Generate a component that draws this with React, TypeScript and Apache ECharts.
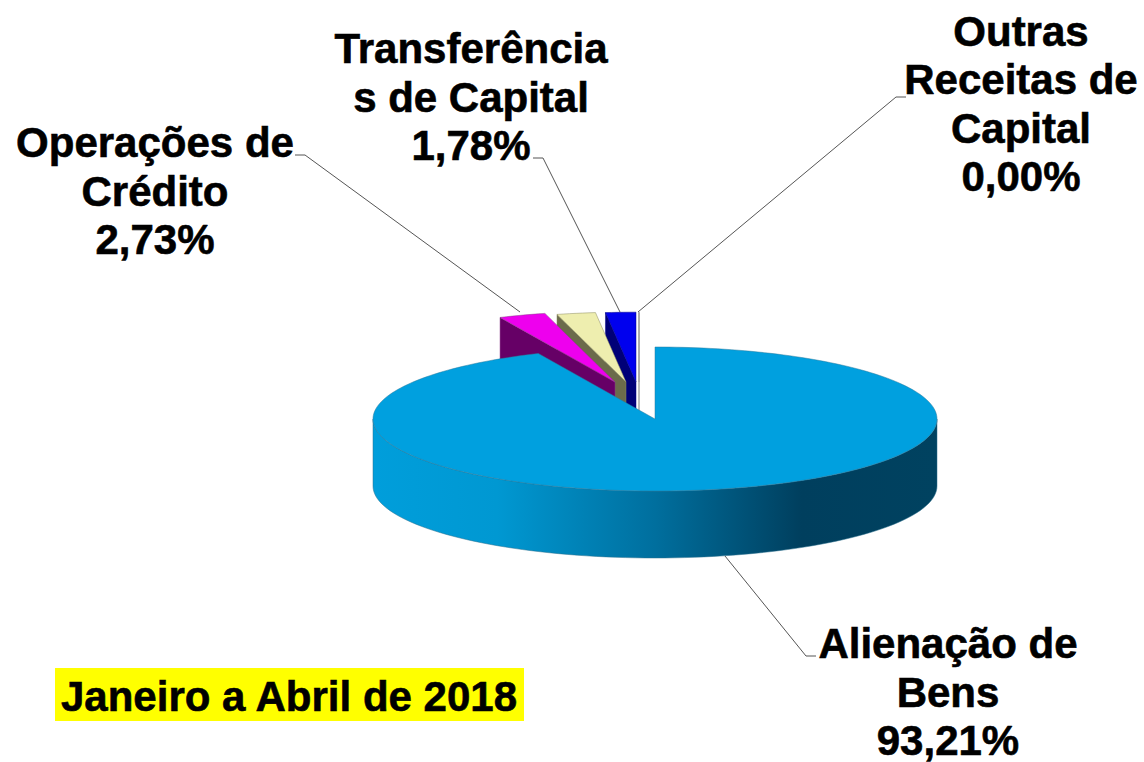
import React, { useEffect, useRef } from "react";
import * as echarts from "echarts";

// Clockwise from 12 o'clock
const categories = ["Alienação de\nBens", "Operações de\nCrédito", "", "Transferência\ns de Capital", "Outras\nReceitas de\nCapital"];
const values = [93.21, 2.73, 2.28, 1.78, 0.0];
const periodLabel = "Janeiro a Abril de 2018";

const topColors = ["#00A0DF", "#EE00EE", "#EEEEAF", "#0000EE", "#FFFFFF"];
const sideColors = ["#00A0DF", "#660066", "#6B6B4B", "#000077", "#FFFFFF"];
const edgeColors = ["#2a7a9c", "#8a3a8a", "#8a8a60", "#000088", "#a8a8a8"];
// Layout (per category)
const explode = [[0, 0], [-40, -37], [-29, -37], [-19, -37], [-16, -37]];
const radiusScale = [1, 0.985, 0.97, 0.97, 0.97];
const labelPos = [[948, 692], [155, 191], null, [471, 97], [1021, 104]];
const leaders = [
  [[725, 556], [806, 656], [816, 656]],
  [[520, 312], [305, 155], [295, 155]],
  null,
  [[620, 312], [543, 158], [533, 158]],
  [[638, 312], [896, 97], [906, 97]],
];

const CX = 655, CY = 419, RX = 282, RY = 72, DEPTH = 67;
const FONT = "bold 42px 'Liberation Sans', Arial, sans-serif";
const LINE_STEP = 48.5;
const total = values.reduce((a, b) => a + b, 0);

function pct(v: number) {
  return v.toFixed(2).replace(".", ",") + "%";
}

function renderItem(params: any, api: any) {
  const cat = api.value(0) as number;
  const v = values[cat];
  let before = 0;
  for (let k = 0; k < cat; k++) before += values[k];
  const t0 = (before / total) * Math.PI * 2;
  const t1 = ((before + v) / total) * Math.PI * 2;
  const [dx, dy] = explode[cat];
  const ax = CX + dx, ay = CY + dy;
  const s = radiusScale[cat];
  const pt = (t: number) => [ax + RX * s * Math.sin(t), ay - RY * s * Math.cos(t)];
  const children: any[] = [];
  if (t1 - t0 > Math.PI) {
    const front: number[][] = [];
    const back: number[][] = [];
    for (let n = 0; n <= 90; n++) {
      const t = Math.PI / 2 + (Math.PI * n) / 90;
      const p = pt(t);
      front.push(p);
      back.unshift([p[0], p[1] + DEPTH]);
    }
    children.push({
      type: "polygon",
      shape: { points: front.concat(back) },
      style: {
        fill: new echarts.graphic.LinearGradient(0, 0, 1, 0, [
          { offset: 0, color: "#009EDB" },
          { offset: 0.22, color: "#0098D2" },
          { offset: 0.5, color: "#006F9E" },
          { offset: 0.76, color: "#003F5E" },
          { offset: 1, color: "#004260" },
        ]),
        stroke: "#2a6f8c",
        lineWidth: 0.5,
      },
    });
  } else {
    const p = pt(t0);
    children.push({
      type: "polygon",
      shape: { points: [p, [ax, ay], [ax, ay + DEPTH], [p[0], p[1] + DEPTH]] },
      style: { fill: sideColors[cat], stroke: edgeColors[cat], lineWidth: v === 0 ? 1.5 : 0.5 },
    });
  }
  const pts: number[][] = [[ax, ay]];
  const steps = Math.max(2, Math.ceil((t1 - t0) * 40));
  for (let n = 0; n <= steps; n++) pts.push(pt(t0 + ((t1 - t0) * n) / steps));
  children.push({
    type: "polygon",
    shape: { points: pts },
    style: { fill: topColors[cat], stroke: edgeColors[cat], lineWidth: v === 0 ? 1.5 : 0.5 },
  });
  return { type: "group", children };
}

function renderLabel(params: any, api: any) {
  const cat = api.value(0) as number;
  const pos = labelPos[cat];
  const line = leaders[cat];
  if (!pos || !line) return { type: "group", children: [] };
  const lines = (categories[cat] + "\n" + pct(values[cat])).split("\n");
  const first = pos[1] - ((lines.length - 1) * LINE_STEP) / 2;
  return {
    type: "group",
    children: [
      { type: "polyline", shape: { points: line }, style: { stroke: "#555555", lineWidth: 1, fill: "none" } },
      ...lines.map((text, k) => ({
        type: "text",
        style: {
          x: pos[0],
          y: first + k * LINE_STEP,
          text,
          font: FONT,
          align: "center",
          verticalAlign: "middle",
          fill: "#000000",
          stroke: "#000000",
          lineWidth: 0.6,
        },
      })),
    ],
  };
}

export default function App() {
  const ref = useRef<HTMLDivElement>(null);
  useEffect(() => {
    document.body.style.margin = "0";
    const chart = echarts.init(ref.current!, undefined, { renderer: "svg" });
    const order = [4, 3, 2, 1, 0];
    chart.setOption({
      animation: false,
      backgroundColor: "#ffffff",
      series: [
        {
          type: "custom",
          coordinateSystem: "none",
          silent: true,
          clip: false,
          renderItem,
          data: order.map((c) => [c, values[c]]),
          z: 2,
        },
        {
          type: "custom",
          coordinateSystem: "none",
          silent: true,
          clip: false,
          renderItem: renderLabel,
          data: order.map((c) => [c, values[c]]),
          z: 3,
        },
      ],
      graphic: [
        { type: "rect", shape: { x: 55, y: 668, width: 469, height: 53 }, style: { fill: "#FFFF00" }, z: 1 },
        {
          type: "text",
          x: 289,
          y: 696,
          z: 2,
          style: { text: periodLabel, font: "bold 42px 'Liberation Sans', Arial, sans-serif", align: "center", verticalAlign: "middle", fill: "#000000", stroke: "#000000", lineWidth: 0.6 },
        },
      ],
    });
    return () => chart.dispose();
  }, []);
  return <div ref={ref} style={{ width: 1144, height: 762 }} />;
}
